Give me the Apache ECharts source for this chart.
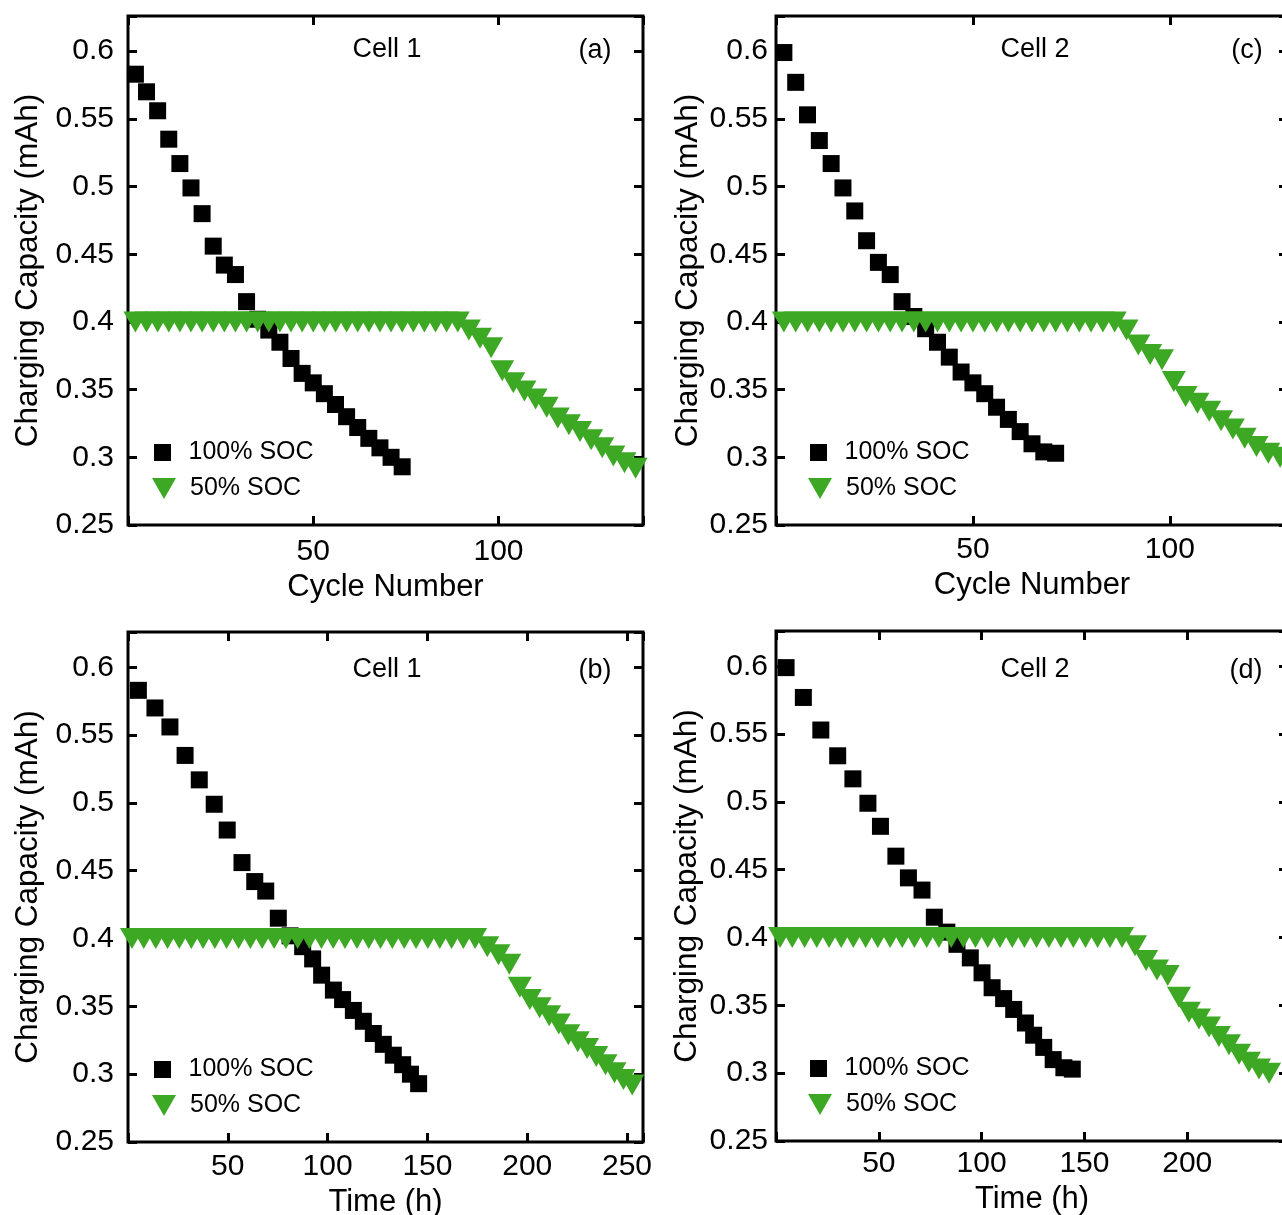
<!DOCTYPE html>
<html>
<head>
<meta charset="utf-8">
<script src="https://cdn.jsdelivr.net/npm/echarts@6/dist/echarts.min.js"></script>
<style>
  html, body { margin: 0; padding: 0; background: #ffffff; }
  #chart { width: 1282px; height: 1215px; }
</style>
</head>
<body>
<div id="chart"></div>
<script>
// ---- Cell 1, 100% SOC ----
const cell1Cycle100 = [2, 5, 8, 11, 14, 17, 20, 23, 26, 29, 32, 35, 38, 41, 44, 47, 50, 53, 56, 59, 62, 65, 68, 71, 74];
const cell1Time100 = [5.2, 13.5, 21.0, 28.6, 35.7, 43.2, 49.7, 57.1, 63.5, 69.0, 75.3, 81.2, 87.5, 92.5, 97.0,
                      102.9, 107.5, 112.9, 117.9, 122.9, 127.9, 132.9, 137.6, 141.5, 145.6];
const cell1Cap100 = [0.583, 0.570, 0.556, 0.535, 0.517, 0.499, 0.480, 0.456, 0.442, 0.435, 0.415, 0.402, 0.394,
                     0.385, 0.373, 0.362, 0.355, 0.347, 0.339, 0.330, 0.322, 0.314, 0.307, 0.300, 0.293];

// ---- Cell 1, 50% SOC ----
const cell1Cycle50 = [2, 5, 8, 11, 14, 17, 20, 23, 26, 29, 32, 35, 38, 41, 44, 47, 50, 53, 56, 59, 62, 65, 68, 71,
                      74, 77, 80, 83, 86, 89, 92, 95, 98, 101, 104, 107, 110, 113, 116, 119, 122, 125, 128, 131, 134, 137];
const cell1Time50 = [2.0, 7.9, 13.9, 19.8, 25.7, 31.7, 37.6, 43.5, 49.4, 55.4, 61.3, 67.2, 73.2, 79.1, 85.0, 90.9,
                     96.9, 102.8, 108.7, 114.7, 120.6, 126.5, 132.4, 138.4, 144.3, 150.2, 156.2, 162.1, 168.0, 173.9,
                     180.0, 185.6, 191.0, 196.3, 201.3, 206.2, 211.0, 215.8, 220.6, 225.3, 230.0, 234.6, 239.2,
                     243.7, 248.2, 252.6];
const cell1Cap50 = [0.400, 0.400, 0.400, 0.400, 0.400, 0.400, 0.400, 0.400, 0.400, 0.400, 0.400, 0.400, 0.400,
                    0.400, 0.400, 0.400, 0.400, 0.400, 0.400, 0.400, 0.400, 0.400, 0.400, 0.400, 0.400, 0.400,
                    0.400, 0.400, 0.400, 0.400,
                    0.394, 0.388, 0.381, 0.364, 0.355, 0.349, 0.343, 0.337, 0.329, 0.324, 0.319, 0.313, 0.307,
                    0.301, 0.296, 0.292];

// ---- Cell 2, 100% SOC ----
const cell2Cycle100 = [2, 5, 8, 11, 14, 17, 20, 23, 26, 29, 32, 35, 38, 41, 44, 47, 50, 53, 56, 59, 62, 65, 68, 71];
const cell2Time100 = [4.9, 13.3, 21.8, 30.0, 37.4, 44.7, 50.8, 58.3, 64.4, 71.0, 77.0, 83.1, 88.0, 94.5, 100.2,
                      105.1, 110.7, 115.6, 121.3, 125.3, 130.2, 134.8, 140.0, 144.1];
const cell2Cap100 = [0.599, 0.577, 0.553, 0.534, 0.517, 0.499, 0.482, 0.460, 0.444, 0.435, 0.415, 0.404, 0.395,
                     0.385, 0.374, 0.363, 0.355, 0.347, 0.337, 0.328, 0.319, 0.310, 0.304, 0.303];

// ---- Cell 2, 50% SOC ----
const cell2Cycle50 = [2, 5, 8, 11, 14, 17, 20, 23, 26, 29, 32, 35, 38, 41, 44, 47, 50, 53, 56, 59, 62, 65, 68, 71,
                      74, 77, 80, 83, 86, 89, 92, 95, 98, 101, 104, 107, 110, 113, 116, 119, 122, 125, 128];
const cell2Time50 = [2.0, 7.9, 13.9, 19.8, 25.8, 31.7, 37.6, 43.6, 49.5, 55.5, 61.4, 67.3, 73.3, 79.2, 85.2, 91.1,
                     97.0, 103.0, 108.9, 114.9, 120.8, 126.7, 132.7, 138.6, 144.6, 150.5, 156.4, 162.4, 168.3,
                     174.6, 180.0, 185.3, 190.5, 196.0, 200.8, 205.7, 210.6, 215.4, 220.3, 225.2, 230.0, 234.9, 239.8];
const cell2Cap50 = [0.400, 0.400, 0.400, 0.400, 0.400, 0.400, 0.400, 0.400, 0.400, 0.400, 0.400, 0.400, 0.400,
                    0.400, 0.400, 0.400, 0.400, 0.400, 0.400, 0.400, 0.400, 0.400, 0.400, 0.400, 0.400, 0.400,
                    0.400, 0.400, 0.400,
                    0.394, 0.383, 0.376, 0.372, 0.356, 0.345, 0.340, 0.334, 0.327, 0.321, 0.314, 0.308, 0.303, 0.300];

// ---- labels ----
const seriesNames = ['100% SOC', '50% SOC'];
const cellLabels = ['Cell 1', 'Cell 1', 'Cell 2', 'Cell 2'];
const panelTags = ['(a)', '(b)', '(c)', '(d)'];
const xTitles = ['Cycle Number', 'Time (h)', 'Cycle Number', 'Time (h)'];
const yTitle = 'Charging Capacity (mAh)';

const FONT = 'Liberation Sans, Arial, Helvetica, sans-serif';
const GREEN = '#3da823';

// key icons: filled square and downward triangle
const SQUARE_ICON = 'path://M0,0L17,0L17,17L0,17Z';
const TRIANGLE_ICON = 'path://M0,0L24,0L12,21Z';

// panel frames, axis extents and text placement
const panels = [
  { left: 128, top: 16,  width: 515, height: 509, xMax: 139, x: cell1Cycle100, y: cell1Cap100, x2: cell1Cycle50, y2: cell1Cap50,
    xLabelMargin: 12, xNameGap: 47, yLabelMargin: 14, yNameGap: 84, textY: 50, tagX: 595, cellX: 387, keyDX: 26 },
  { left: 128, top: 632, width: 515, height: 510, xMax: 258, x: cell1Time100, y: cell1Cap100, x2: cell1Time50, y2: cell1Cap50,
    xLabelMargin: 10, xNameGap: 45, yLabelMargin: 14, yNameGap: 84, textY: 670, tagX: 595, cellX: 387, keyDX: 26 },
  { left: 776, top: 16,  width: 512, height: 509, xMax: 130, x: cell2Cycle100, y: cell2Cap100, x2: cell2Cycle50, y2: cell2Cap50,
    xLabelMargin: 10, xNameGap: 45, yLabelMargin: 8, yNameGap: 72, textY: 50, tagX: 1247, cellX: 1035, keyDX: 34 },
  { left: 776, top: 631, width: 512, height: 510, xMax: 249, x: cell2Time100, y: cell2Cap100, x2: cell2Time50, y2: cell2Cap50,
    xLabelMargin: 8, xNameGap: 43, yLabelMargin: 8, yNameGap: 73, textY: 670, tagX: 1246, cellX: 1035, keyDX: 34 }
];

const Y_MIN = 0.25, Y_MAX = 0.626;

function pairs(xs, ys) {
  return xs.map((v, i) => [v, ys[i]]);
}

const tickStyle = { show: true, inside: true, length: 9, lineStyle: { color: '#000', width: 3 } };

const grid = [], xAxis = [], yAxis = [], series = [], legend = [], graphic = [];

panels.forEach((p, k) => {
  grid.push({
    left: p.left, top: p.top, width: p.width, height: p.height,
    show: true, borderColor: '#000', borderWidth: 3, backgroundColor: 'transparent',
    containLabel: false, outerBoundsMode: 'none'
  });

  // bottom / top x axes
  xAxis.push({
    type: 'value', gridIndex: k, position: 'bottom', min: 0, max: p.xMax, interval: 50,
    axisLine: { show: false, onZero: false },
    axisTick: tickStyle,
    splitLine: { show: false },
    axisLabel: {
      show: true, margin: p.xLabelMargin, color: '#000', fontSize: 30, fontFamily: FONT,
      formatter: v => (v > 0 && Math.abs(v % 50) < 1e-9) ? String(v) : ''
    },
    name: xTitles[k], nameLocation: 'middle', nameGap: p.xNameGap, nameMoveOverlap: false,
    nameTextStyle: { color: '#000', fontSize: 31, fontFamily: FONT }
  });
  xAxis.push({
    type: 'value', gridIndex: k, position: 'top', min: 0, max: p.xMax, interval: 50,
    axisLine: { show: false, onZero: false }, axisTick: tickStyle,
    splitLine: { show: false }, axisLabel: { show: false }
  });

  // left / right y axes
  yAxis.push({
    type: 'value', gridIndex: k, position: 'left', min: Y_MIN, max: Y_MAX, interval: 0.05,
    axisLine: { show: false, onZero: false },
    axisTick: tickStyle,
    splitLine: { show: false },
    axisLabel: {
      show: true, margin: p.yLabelMargin, color: '#000', fontSize: 30, fontFamily: FONT,
      formatter: v => (v < 0.62) ? String(Number(v.toFixed(2))) : ''
    },
    name: yTitle, nameLocation: 'middle', nameGap: p.yNameGap, nameMoveOverlap: false,
    nameTextStyle: { color: '#000', fontSize: 31.5, fontFamily: FONT }
  });
  yAxis.push({
    type: 'value', gridIndex: k, position: 'right', min: Y_MIN, max: Y_MAX, interval: 0.05,
    axisLine: { show: false, onZero: false }, axisTick: tickStyle,
    splitLine: { show: false }, axisLabel: { show: false }
  });

  series.push({
    name: seriesNames[0], type: 'scatter', xAxisIndex: 2 * k, yAxisIndex: 2 * k,
    symbol: 'rect', symbolSize: 17, itemStyle: { color: '#000', opacity: 1 },
    data: pairs(p.x, p.y), clip: false, z: 3, emphasis: { disabled: true }
  });
  series.push({
    name: seriesNames[1], type: 'scatter', xAxisIndex: 2 * k, yAxisIndex: 2 * k,
    symbol: 'triangle', symbolSize: [24, 21], symbolRotate: 180,
    itemStyle: { color: GREEN, opacity: 1 },
    data: pairs(p.x2, p.y2), clip: false, z: 4, emphasis: { disabled: true }
  });

  // per-panel key: one component per entry so each marker keeps its own size
  const keyY = p.top + p.height - 86;
  legend.push({
    data: [seriesNames[0]], left: p.left + p.keyDX, top: keyY + 1, orient: 'vertical', padding: 0,
    icon: SQUARE_ICON, symbolKeepAspect: true,
    itemWidth: 42, itemHeight: 17, selectedMode: false,
    textStyle: { color: '#000', fontSize: 25, fontFamily: FONT }
  });
  legend.push({
    data: [seriesNames[1]], left: p.left + p.keyDX - 2, top: keyY + 37, orient: 'vertical', padding: 0,
    icon: TRIANGLE_ICON, symbolKeepAspect: true,
    itemWidth: 42, itemHeight: 21, selectedMode: false,
    textStyle: { color: '#000', fontSize: 25, fontFamily: FONT }
  });

  graphic.push({
    type: 'text', x: p.cellX, y: p.textY, silent: true,
    style: { text: cellLabels[k], align: 'center', verticalAlign: 'middle', fill: '#000', fontSize: 27, fontFamily: FONT }
  });
  graphic.push({
    type: 'text', x: p.tagX, y: p.textY + 1, silent: true,
    style: { text: panelTags[k], align: 'center', verticalAlign: 'middle', fill: '#000', fontSize: 27, fontFamily: FONT }
  });
});

const chart = echarts.init(document.getElementById('chart'), null, { renderer: 'canvas' });
chart.setOption({
  animation: false,
  backgroundColor: '#ffffff',
  textStyle: { fontFamily: FONT },
  grid, xAxis, yAxis, series, legend, graphic
});
</script>
</body>
</html>
